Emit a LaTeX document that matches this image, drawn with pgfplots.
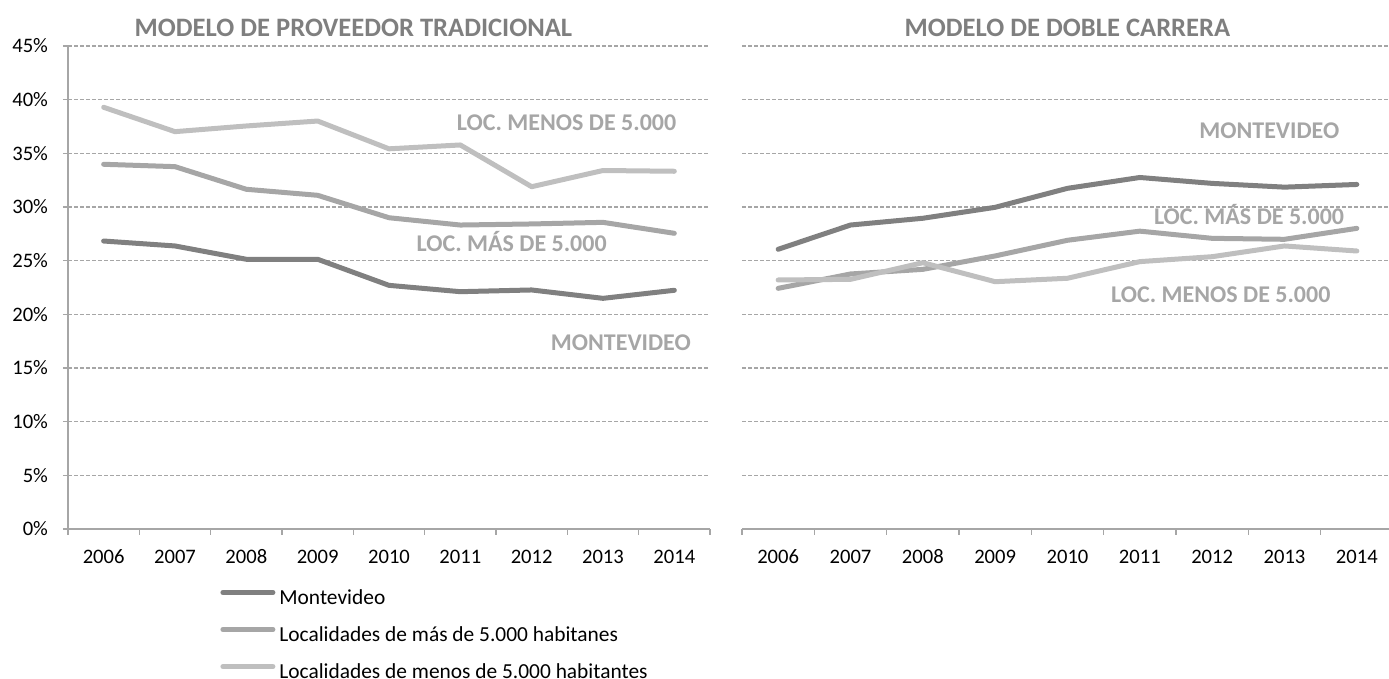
\documentclass[border=0pt]{standalone}
\usepackage{fontspec}
\setmainfont{Carlito}
\usepackage{pgfplots}
\usepackage{pgfplotstable}
\pgfplotsset{compat=1.18}
\definecolor{cMont}{HTML}{808080}
\definecolor{cMas}{HTML}{A6A6A6}
\definecolor{cMen}{HTML}{BFBFBF}
\definecolor{cGrid}{HTML}{A6A6A6}
\definecolor{cTitle}{HTML}{7F7F7F}
\definecolor{cLab}{HTML}{A6A6A6}
\definecolor{cAxis}{HTML}{A6A6A6}

\pgfplotstableread{
x mont mas men
0 26.83 33.98 39.29
1 26.37 33.76 37.02
2 25.13 31.65 37.55
3 25.13 31.09 38.01
4 22.70 29.00 35.42
5 22.11 28.32 35.78
6 22.27 28.42 31.89
7 21.49 28.57 33.40
8 22.24 27.55 33.33
}\tradicional

\pgfplotstableread{
x mont mas men
0 26.06 22.42 23.20
1 28.32 23.76 23.26
2 28.95 24.19 24.81
3 29.97 25.44 23.04
4 31.74 26.90 23.36
5 32.75 27.75 24.91
6 32.20 27.08 25.37
7 31.85 26.99 26.37
8 32.10 28.01 25.90
}\doble

\tikzset{lab/.style={font=\bfseries\fontsize{12}{14}\selectfont, text=cLab, anchor=center}}

\pgfplotsset{
  base/.style={
    scale only axis, height=241.5pt,
    xmin=-0.5, xmax=8.5, ymin=0, ymax=45,
    xtick={0,...,8}, xticklabels={2006,2007,2008,2009,2010,2011,2012,2013,2014},
    minor xtick={-0.5,0.5,...,8.5},
    ytick={0,5,...,45},
    tick align=outside, xtick pos=bottom, ytick pos=left,
    major tick length=2.5pt, minor tick length=3pt,
    major x tick style={draw=none},
    minor x tick style={cAxis, line width=0.8pt},
    major y tick style={cAxis, line width=0.6pt},
    axis x line*=bottom, axis y line*=left,
    axis line style={cAxis, line width=0.8pt, -},
    ymajorgrids,
    major grid style={cGrid, dash pattern=on 2pt off 1pt, line width=0.6pt},
    tick label style={font=\fontsize{10.3}{12}\selectfont, text=black},
    /pgf/number format/assume math mode=true,
    xticklabel style={anchor=north, text height=6.6pt, text depth=0pt, yshift=-4.5pt},
    yticklabel style={xshift=-4pt},
    yticklabel={\pgfmathprintnumber{\tick}\%},
    title style={at={(0.5,1)}, anchor=center, yshift=3pt,
      font=\bfseries\fontsize{13.3}{15}\selectfont, text=cTitle},
    every axis plot/.append style={line width=2.5pt, line cap=round, line join=round, mark=none},
  },
}

\begin{document}
\begin{tikzpicture}
\useasboundingbox (0,0) rectangle (694.5pt,339.5pt);

\begin{axis}[base, at={(34pt,75pt)}, anchor=south west, width=321pt,
  title={MODELO DE PROVEEDOR TRADICIONAL},
  title style={xshift=-17.75pt},
  legend style={at={(0.2368,-0.124)}, anchor=north west, draw=none, fill=none,
    inner sep=0pt, row sep=9.6pt, font=\fontsize{10.7}{12}\selectfont,
    nodes={inner sep=0pt}},
  legend cell align=left,
  legend image code/.code={\draw[#1] (1.25pt,0.6ex) -- (26.25pt,0.6ex);},
  /tikz/every odd column/.append style={column sep=2pt},
]
\addplot[cMont] table[x=x, y=mont] {\tradicional};
\addlegendentry{Montevideo}
\addplot[cMas] table[x=x, y=mas] {\tradicional};
\addlegendentry{Localidades de más de 5.000 habitanes}
\addplot[cMen] table[x=x, y=men] {\tradicional};
\addlegendentry{Localidades de menos de 5.000 habitantes}
\node[lab] at (axis cs:6.49,37.83) {LOC. MENOS DE 5.000};
\node[lab] at (axis cs:5.72,26.83) {LOC. MÁS DE 5.000};
\node[lab] at (axis cs:7.25,17.33) {MONTEVIDEO};
\end{axis}

\begin{axis}[base, at={(371pt,75pt)}, anchor=south west, width=325.5pt,
  title={MODELO DE DOBLE CARRERA},
  yticklabels={}, major y tick style={draw=none},
  y axis line style={draw=none},
]
\addplot[cMont] table[x=x, y=mont] {\doble};
\addplot[cMas] table[x=x, y=mas] {\doble};
\addplot[cMen] table[x=x, y=men] {\doble};
\node[lab] at (axis cs:6.79,37.08) {MONTEVIDEO};
\node[lab] at (axis cs:6.51,29.26) {LOC. MÁS DE 5.000};
\node[lab] at (axis cs:6.12,21.80) {LOC. MENOS DE 5.000};
\end{axis}
\end{tikzpicture}
\end{document}
